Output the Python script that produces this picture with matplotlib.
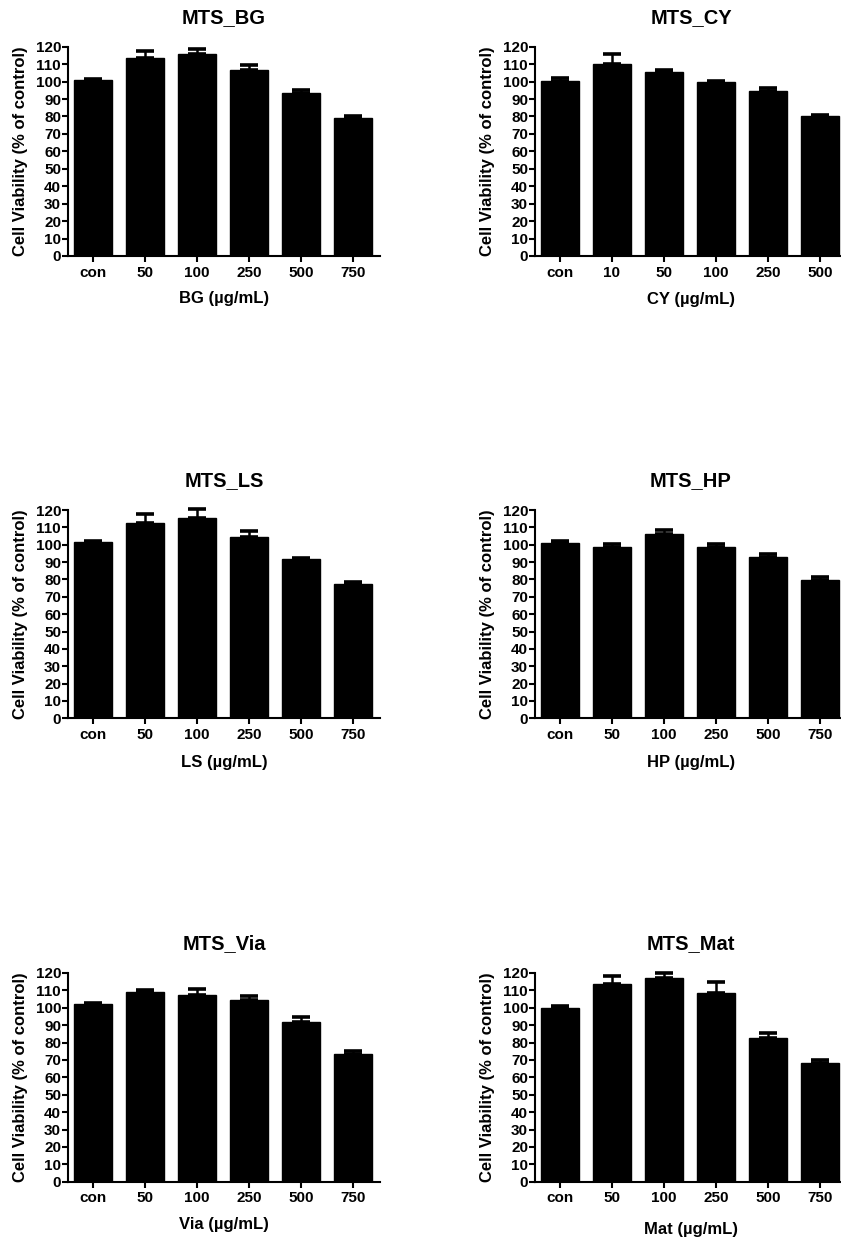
import matplotlib
matplotlib.use("Agg")
import matplotlib.pyplot as plt
import numpy as np

plt.rcParams['font.family'] = ['Liberation Sans', 'DejaVu Sans']
plt.rcParams['font.weight'] = 'bold'

# ---- data ----
titles = ["MTS_BG", "MTS_CY", "MTS_LS", "MTS_HP", "MTS_Via", "MTS_Mat"]
xlabels = ["BG (µg/mL)", "CY (µg/mL)", "LS (µg/mL)", "HP (µg/mL)", "Via (µg/mL)", "Mat (µg/mL)"]
cats_bg = ["con", "50", "100", "250", "500", "750"]
cats_cy = ["con", "10", "50", "100", "250", "500"]
cats_ls = ["con", "50", "100", "250", "500", "750"]
cats_hp = ["con", "50", "100", "250", "500", "750"]
cats_via = ["con", "50", "100", "250", "500", "750"]
cats_mat = ["con", "50", "100", "250", "500", "750"]

bg_mean = [101.1, 113.3, 116.0, 106.4, 93.3, 78.9]
bg_err = [0.3, 4.4, 2.5, 3.1, 1.9, 1.2]
cy_mean = [100.6, 109.8, 105.4, 99.5, 94.7, 80.1]
cy_err = [1.2, 6.0, 1.5, 0.9, 1.5, 0.5]
ls_mean = [101.6, 112.3, 115.6, 104.5, 91.8, 77.4]
ls_err = [0.3, 5.4, 4.8, 3.3, 0.8, 1.3]
hp_mean = [101.2, 98.9, 106.0, 98.5, 93.1, 79.7]
hp_err = [1.0, 1.3, 2.5, 1.7, 1.4, 1.5]
via_mean = [102.3, 109.1, 107.5, 104.6, 91.6, 73.5]
via_err = [0.6, 1.1, 3.3, 2.1, 3.1, 1.4]
mat_mean = [99.9, 113.9, 117.3, 108.7, 82.9, 68.3]
mat_err = [1.0, 4.2, 2.9, 6.1, 2.7, 1.5]

cats = [cats_bg, cats_cy, cats_ls, cats_hp, cats_via, cats_mat]
means = [bg_mean, cy_mean, ls_mean, hp_mean, via_mean, mat_mean]
errs = [bg_err, cy_err, ls_err, hp_err, via_err, mat_err]
yticks = list(range(0, 121, 10))

# ---- layout ----
W, H = 841, 1239
fig = plt.figure(figsize=(W / 100, H / 100), dpi=100)

col_x = [68, 535]
row_top = [46.7, 510, 973]
row_bot = [256, 718.3, 1181.7]
ax_w = 312
xlabel_pad = [8, 9, 9, 9, 8, 12]

for i in range(6):
    r, c = divmod(i, 2)
    left = col_x[c] / W
    bottom = 1 - row_bot[r] / H
    height = (row_bot[r] - row_top[r]) / H
    ax = fig.add_axes([left, bottom, ax_w / W, height])
    x = np.arange(len(cats[i]))
    ax.bar(x, means[i], width=0.73, color='black', edgecolor='black', zorder=2)
    ax.errorbar(x, means[i], yerr=[np.zeros(len(x)), errs[i]], fmt='none',
                ecolor='black', elinewidth=1.8, capsize=6.5, capthick=2.6,
                clip_on=False, zorder=3)
    ax.set_xlim(-0.48, 5.52)
    ax.set_ylim(0, 120)
    ax.set_yticks(yticks)
    ax.set_xticks(x)
    ax.set_xticklabels(cats[i])
    for s in ['top', 'right']:
        ax.spines[s].set_visible(False)
    for s in ['left', 'bottom']:
        ax.spines[s].set_linewidth(1.5)
    ax.tick_params(axis='y', length=4, width=1.5, labelsize=11, pad=1)
    ax.tick_params(axis='x', length=4, width=1.5, labelsize=11, pad=3)
    for lab in ax.get_xticklabels() + ax.get_yticklabels():
        lab.set_fontweight('bold')
    ax.set_title(titles[i], fontsize=14.5, fontweight='bold', pad=17)
    ax.set_xlabel(xlabels[i], fontsize=12, fontweight='bold', labelpad=xlabel_pad[i])
    ax.set_ylabel("Cell Viability (% of control)", fontsize=12, fontweight='bold', labelpad=5.5)

fig.savefig("out.png", dpi=100)
